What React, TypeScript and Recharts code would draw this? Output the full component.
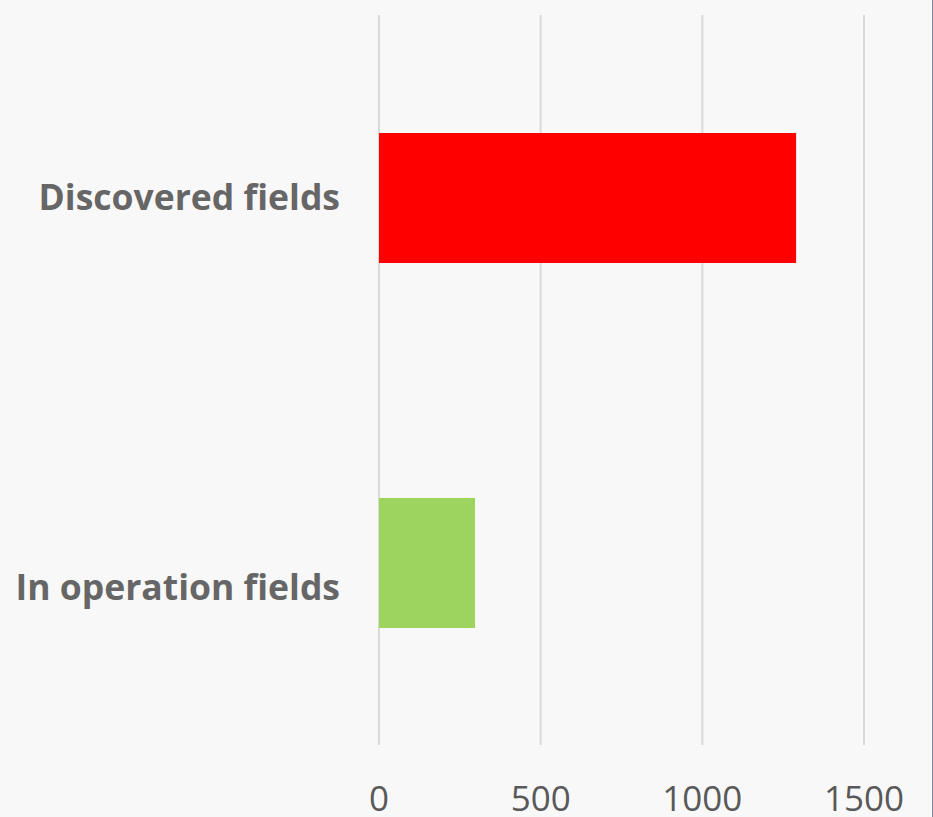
import React from "react";
import { BarChart, Bar, XAxis, YAxis, CartesianGrid, Cell } from "recharts";

const categories = ["Discovered fields", "In operation fields"];
const fieldCounts = [1290, 297];
const barColors = ["#ff0000", "#9cd45d"];
const xTicks = [0, 500, 1000, 1500];

const data = categories.map((name, i) => ({ name, value: fieldCounts[i] }));

const CategoryTick = (props: any) => {
  const { x, y, payload, index } = props;
  const shift = index === categories.length - 1 ? 25 : 0;
  return (
    <text
      x={x}
      y={y + shift}
      dy="0.36em"
      textAnchor="end"
      fill="#666666"
      fontFamily="'Open Sans', sans-serif"
      fontWeight={700}
      fontSize={35.5}
    >
      {payload.value}
    </text>
  );
};

export default function App() {
  return (
    <div
      style={{
        position: "absolute",
        left: 0,
        top: 0,
        width: 933,
        height: 817,
        background: "#f8f8f8",
        boxSizing: "border-box",
        borderRight: "1px solid #7d8ca3",
      }}
    >
      <BarChart
        width={932}
        height={817}
        data={data}
        layout="vertical"
        margin={{ top: 15, right: 68, bottom: 0, left: 0 }}
        barSize={130}
      >
        <CartesianGrid horizontal={false} stroke="#d9d9d9" strokeWidth={2} />
        <XAxis
          type="number"
          domain={[0, 1500]}
          ticks={xTicks}
          axisLine={false}
          tickLine={false}
          tickSize={0}
          tickMargin={41}
          height={72}
          tick={{ fill: "#595959", fontSize: 35, fontFamily: "'Open Sans', sans-serif" }}
        />
        <YAxis
          type="category"
          dataKey="name"
          width={379}
          axisLine={false}
          tickLine={false}
          tickSize={0}
          tickMargin={39}
          tick={<CategoryTick />}
        />
        <Bar dataKey="value" isAnimationActive={false}>
          {data.map((d, i) => (
            <Cell key={d.name} fill={barColors[i]} />
          ))}
        </Bar>
      </BarChart>
    </div>
  );
}
